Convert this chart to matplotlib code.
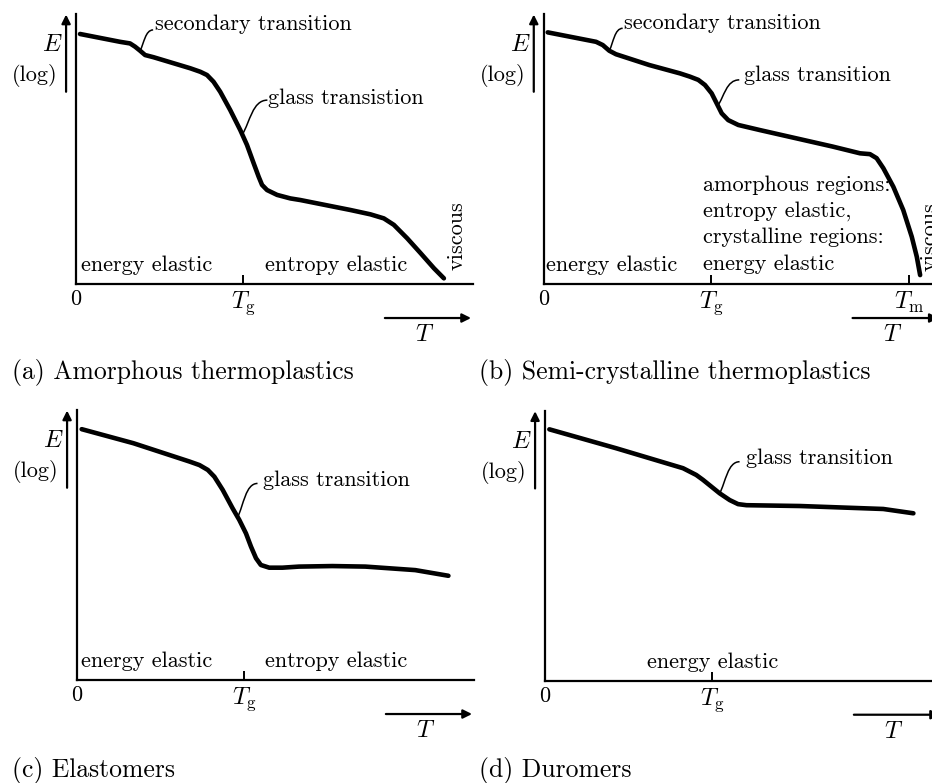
import matplotlib
matplotlib.use("Agg")
import matplotlib.pyplot as plt
from matplotlib.path import Path
from matplotlib.patches import PathPatch

plt.rcParams['font.family'] = ['cmr10', 'DejaVu Serif']
plt.rcParams['mathtext.fontset'] = 'cm'
plt.rcParams['axes.unicode_minus'] = False

# ---------------- data (T relative to Tg = 1, log E scaled 0..1) ----------------
a_T = [0.024, 0.263, 0.323, 0.353, 0.383, 0.413, 0.463, 0.683, 0.743, 0.783, 0.822,
       0.862, 0.922, 0.982, 1.022, 1.062, 1.092, 1.112, 1.142, 1.202, 1.281, 1.341,
       1.641, 1.760, 1.840, 1.900, 1.980, 2.060, 2.140, 2.199]
a_E = [0.926, 0.897, 0.891, 0.879, 0.864, 0.848, 0.840, 0.799, 0.786, 0.774, 0.749,
       0.712, 0.644, 0.570, 0.515, 0.447, 0.397, 0.367, 0.348, 0.330, 0.317, 0.311,
       0.274, 0.258, 0.243, 0.219, 0.169, 0.114, 0.058, 0.021]

b_T = [0.024, 0.313, 0.353, 0.392, 0.432, 0.631, 0.815, 0.874, 0.924, 0.964, 1.004,
       1.034, 1.064, 1.103, 1.163, 1.293, 1.727, 1.891, 1.950, 1.990, 2.030, 2.090,
       2.149, 2.200, 2.230, 2.250]
b_E = [0.932, 0.897, 0.885, 0.864, 0.851, 0.811, 0.780, 0.768, 0.756, 0.737, 0.706,
       0.669, 0.632, 0.607, 0.589, 0.570, 0.509, 0.484, 0.481, 0.466, 0.429, 0.360,
       0.274, 0.175, 0.101, 0.033]

c_T = [0.028, 0.337, 0.673, 0.732, 0.782, 0.821, 0.871, 0.930, 0.970, 1.010, 1.040,
       1.070, 1.099, 1.149, 1.228, 1.327, 1.526, 1.724, 2.022, 2.220]
c_E = [0.929, 0.877, 0.809, 0.796, 0.778, 0.753, 0.704, 0.636, 0.593, 0.543, 0.494,
       0.451, 0.426, 0.416, 0.416, 0.420, 0.422, 0.420, 0.407, 0.386]

d_T = [0.026, 0.425, 0.825, 0.904, 0.944, 0.994, 1.044, 1.104, 1.154, 1.204, 1.523,
       2.022, 2.202]
d_E = [0.931, 0.861, 0.787, 0.762, 0.744, 0.719, 0.694, 0.669, 0.654, 0.650, 0.647,
       0.636, 0.620]

Tg = 1.0
Tm = 2.184

captions = ["(a) Amorphous thermoplastics", "(b) Semi-crystalline thermoplastics",
            "(c) Elastomers", "(d) Duromers"]
semi_lines = ["amorphous regions:", "entropy elastic,", "crystalline regions:", "energy elastic"]

# ---------------- figure ----------------
W, H = 932, 783
fig = plt.figure(figsize=(W / 100, H / 100), dpi=100)

FS = 16
MFS = 17.5
CAP_FS = 18.5


def make_axes(x0px, y0px, w=397, h=270):
    ax = fig.add_axes([x0px / W, (H - y0px) / H, w / W, h / H])
    ax.set_xlim(0, w / 167.3)
    ax.set_ylim(0, 1)
    for s in ('top', 'right'):
        ax.spines[s].set_visible(False)
    for s in ('left', 'bottom'):
        ax.spines[s].set_linewidth(1.6)
    ax.set_yticks([])
    ax.tick_params(axis='x', direction='in', length=6.5, width=1.4, pad=4,
                   labelsize=FS)
    ax.patch.set_visible(False)
    # E (log) arrow and labels
    ax.annotate('', xy=(-0.025, 0.998), xytext=(-0.025, 0.712),
                xycoords='axes fraction',
                arrowprops=dict(arrowstyle='-|>', lw=1.6, color='k',
                                mutation_scale=13, shrinkA=0, shrinkB=0))
    ax.text(-0.060, 0.885, '$E$', transform=ax.transAxes, fontsize=MFS,
            ha='center', va='center')
    ax.text(-0.103, 0.772, '(log)', transform=ax.transAxes, fontsize=FS,
            ha='center', va='center')
    # T arrow
    ax.annotate('', xy=(0.995, -0.126), xytext=(0.778, -0.126),
                xycoords='axes fraction',
                arrowprops=dict(arrowstyle='-|>', lw=1.6, color='k',
                                mutation_scale=13, shrinkA=0, shrinkB=0))
    ax.text(0.879, -0.19, '$T$', transform=ax.transAxes, fontsize=MFS,
            ha='center', va='center')
    return ax


def set_ticks(ax, pos, labels):
    ax.set_xticks(pos, labels)
    for lab in ax.get_xticklabels():
        if lab.get_text().startswith('$'):
            lab.set_fontsize(MFS)


def leader(ax, p0, p1):
    (x0, y0), (x1, y1) = p0, p1
    dx, dy = x1 - x0, y1 - y0
    verts = [(x0, y0), (x0 + 0.3 * dx, y0 + 0.35 * dy),
             (x1 - 0.6 * dx, y1), (x1, y1)]
    codes = [Path.MOVETO, Path.CURVE4, Path.CURVE4, Path.CURVE4]
    ax.add_patch(PathPatch(Path(verts, codes), fc='none', ec='k', lw=1.1,
                           clip_on=False))


def txt(ax, x, y, s, **kw):
    kw.setdefault('ha', 'left')
    kw.setdefault('va', 'center')
    ax.text(x, y, s, transform=ax.transAxes, fontsize=FS, **kw)


curve_kw = dict(color='k', lw=3.3, solid_capstyle='round', solid_joinstyle='round',
                clip_on=False)

# (a)
axa = make_axes(76, 284)
axa.plot(a_T, a_E, **curve_kw)
set_ticks(axa, [0, Tg], ['0', r'$T_{\mathrm{g}}$'])
txt(axa, 0.199, 0.962, 'secondary transition')
leader(axa, (0.383, 0.864), (0.461, 0.941))
txt(axa, 0.484, 0.689, 'glass transistion')
leader(axa, (0.995, 0.555), (1.144, 0.681))
txt(axa, 0.0126, 0.070, 'energy elastic')
txt(axa, 0.476, 0.070, 'entropy elastic')
txt(axa, 0.960, 0.178, 'viscous', rotation=90, ha='center')
fig.text(12 / W, 1 - 372 / H, captions[0], fontsize=CAP_FS, ha='left', va='center')

# (b)
axb = make_axes(543.7, 284)
axb.plot(b_T, b_E, **curve_kw)
set_ticks(axb, [0, Tg, Tm], ['0', r'$T_{\mathrm{g}}$', r'$T_{\mathrm{m}}$'])
txt(axb, 0.203, 0.967, 'secondary transition')
leader(axb, (0.392, 0.864), (0.472, 0.947))
txt(axb, 0.505, 0.774, 'glass transition')
leader(axb, (1.04, 0.660), (1.169, 0.756))
txt(axb, 0.006, 0.070, 'energy elastic')
for i, line in enumerate(semi_lines):
    txt(axb, 0.402, 0.367 - i * 0.0975, line)
txt(axb, 0.972, 0.175, 'viscous', rotation=90, ha='center')
fig.text(479 / W, 1 - 373 / H, captions[1], fontsize=CAP_FS, ha='left', va='center')

# (c)
axc = make_axes(77, 680)
axc.plot(c_T, c_E, **curve_kw)
set_ticks(axc, [0, Tg], ['0', r'$T_{\mathrm{g}}$'])
txt(axc, 0.469, 0.741, 'glass transition')
leader(axc, (0.960, 0.603), (1.079, 0.728))
txt(axc, 0.010, 0.068, 'energy elastic')
txt(axc, 0.474, 0.068, 'entropy elastic')
fig.text(12 / W, 1 - 770 / H, captions[2], fontsize=CAP_FS, ha='left', va='center')

# (d)
axd = make_axes(545, 680.7)
axd.plot(d_T, d_E, **curve_kw)
set_ticks(axd, [0, Tg], ['0', r'$T_{\mathrm{g}}$'])
txt(axd, 0.506, 0.824, 'glass transition')
leader(axd, (1.044, 0.694), (1.163, 0.811))
txt(axd, 0.422, 0.070, 'energy elastic', ha='center')
fig.text(479 / W, 1 - 770 / H, captions[3], fontsize=CAP_FS, ha='left', va='center')

fig.savefig('out.png', dpi=100)
